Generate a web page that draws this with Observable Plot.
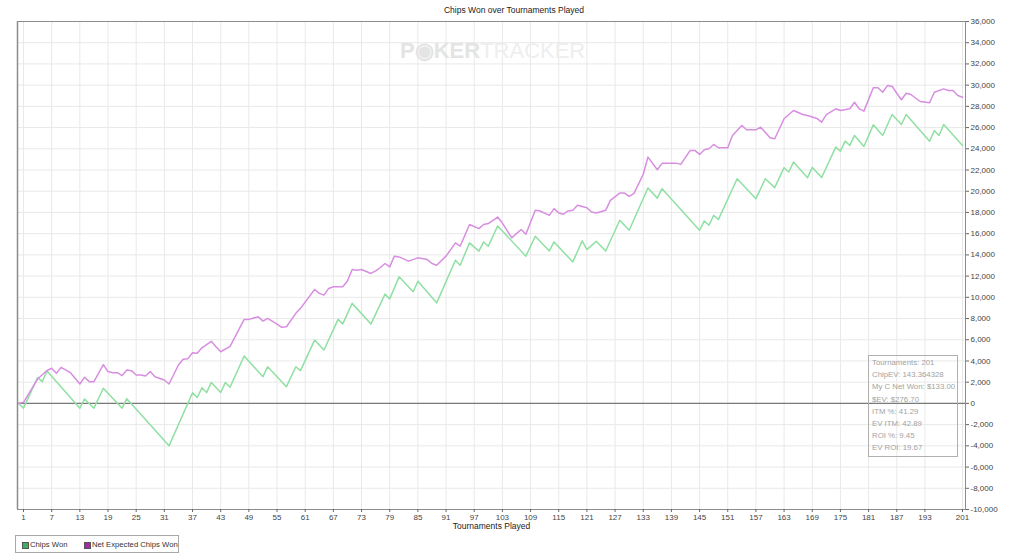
<!DOCTYPE html>
<html>
<head>
<meta charset="utf-8">
<script src="https://cdn.jsdelivr.net/npm/d3@7"></script>
<script src="https://cdn.jsdelivr.net/npm/@observablehq/plot@0.6"></script>
<style>
  html, body { margin: 0; padding: 0; background: #fff; }
  body { width: 1013px; height: 558px; position: relative; overflow: hidden; font-family: "Liberation Sans", Arial, sans-serif; }
  #title { position: absolute; top: 5px; left: 0; width: 1028px; text-align: center; font-size: 8.5px; color: #222; }
  #chart { position: absolute; top: 16px; left: 0; }
  #wm { position: absolute; left: 400px; top: 38px; font-size: 22px; letter-spacing: 0px; white-space: nowrap; }
  #wm .a { color: #e4e4e4; font-weight: bold; }
  #wm .b { color: #eeeeee; }
  #stats { position: absolute; left: 868px; top: 355px; width: 90px; height: 102px; border: 1px solid #b0b0b0; font-size: 7.8px; color: #a3a3a3; line-height: 12.2px; padding-left: 3px; box-sizing: border-box; padding-top: 1px; white-space: nowrap; }
  #legend { position: absolute; left: 15px; top: 535px; width: 164px; height: 18px; border: 1px solid #a8a8a8; box-sizing: border-box; font-size: 7.7px; color: #333; }
  #legend .sw { position: absolute; top: 6px; width: 5px; height: 5px; border: 0.5px solid #555; }
  #legend .lb { position: absolute; top: 3.5px; white-space: nowrap; }
</style>
</head>
<body>
<div id="title">Chips Won over Tournaments Played</div>
<div id="chart"></div>
<div id="wm"><span class="a">P&#9673;KER</span><span class="b">TRACKER</span></div>
<div id="stats"></div>
<div id="legend"></div>
<script>
// Chips Won: turning points (tournament number, chips)
const chipsT = [0,1,4,5,6,13,14,16,18,22,23,32,37,38,39,40,41,43,44,45,48,52,53,57,59,60,63,65,68,69,71,75,78,79,81,84,85,89,93,94,96,98,99,100,102,108,110,113,114,118,120,121,123,125,128,130,134,136,137,145,146,147,148,149,153,157,159,161,163,164,165,168,169,171,174,175,176,177,178,180,182,184,186,188,189,194,195,196,197,201];
const chipsV = [0,-450,2430,2050,3050,-450,420,-450,1430,-450,450,-4000,1000,550,1480,1020,1980,1030,1980,1530,4470,2520,3460,1580,3460,3090,5970,5030,7920,7500,9430,7480,10300,9850,11930,10520,11520,9480,13500,13030,15130,14350,15220,14820,16730,13880,15760,14370,15220,13340,15320,14500,15290,14370,17260,16320,20300,19350,20240,16320,17200,16790,17730,17330,21180,19300,21180,20340,22220,21810,22750,21280,22250,21300,24160,23780,24720,24320,25260,24220,26260,25260,27230,26290,27230,24720,25730,25260,26290,24300];

// Net Expected Chips Won: turning points
const evT = [0,1,4,6,7,8,9,11,13,14,15,16,18,19,20,21,22,23,24,25,26,27,28,29,31,32,34,35,36,37,38,39,41,42,43,45,48,49,51,52,53,55,56,57,59,60,63,64,65,66,67,69,70,71,72,73,75,76,77,78,79,80,81,83,85,87,88,89,91,93,94,96,98,99,100,102,103,105,106,107,108,110,111,113,114,115,116,117,118,119,121,122,123,125,126,128,129,130,131,133,134,136,137,140,141,143,144,145,146,147,148,149,151,152,154,155,157,158,160,161,163,165,167,168,170,171,172,174,175,177,178,179,180,182,183,184,185,186,187,188,189,190,192,194,195,197,198,199,200,201];
const evV = [0,100,2300,3100,3310,2840,3400,2900,1830,2460,2050,2050,3650,3000,2900,2900,2620,3150,3090,2680,2680,2590,3000,2520,2210,1830,3620,4160,4220,4780,4720,5240,5850,5340,4870,5380,7920,7920,8170,7760,8010,7480,7170,7230,8490,8960,10740,10370,10210,10840,10990,10990,11540,12620,12560,12620,12250,12490,12810,13190,12870,13880,13810,13410,13720,13560,13190,13030,13880,15130,14820,16860,16480,16860,16950,17570,17000,15600,16010,16390,15950,18200,18140,17730,18360,17950,17830,18140,18200,18670,18450,18040,17950,18200,19140,19830,19830,19520,19770,21600,23220,22030,22630,22650,22530,23850,23850,23470,23910,24000,24410,24100,24100,25260,26200,25790,25790,26040,25040,24950,26830,27610,27230,27140,26860,26510,27230,27770,27610,27770,28390,27770,27550,29750,29750,29330,29960,29900,29240,28620,29240,29120,28460,28340,29330,29650,29490,29490,29020,28860];

const xTicks = [1,7,13,19,25,31,37,43,49,55,61,67,73,79,85,91,97,103,109,115,121,127,133,139,145,151,157,163,169,175,181,187,193,201];
const yTicks = [-10000,-8000,-6000,-4000,-2000,0,2000,4000,6000,8000,10000,12000,14000,16000,18000,20000,22000,24000,26000,28000,30000,32000,34000,36000];

const seriesNames = ["Chips Won", "Net Expected Chips Won"];
const lineColors = ["#8fe0a2", "#d88ee0"];
const swatchColors = ["#3fae62", "#a42aa8"];

const statsLines = ["Tournaments: 201", "ChipEV: 143.364328", "My C Net Won: $133.00", "$EV: $276.70", "ITM %: 41.29", "EV ITM: 42.89", "ROI %: 9.45", "EV ROI: 19.67"];

const chips = chipsT.map((t, i) => ({t, v: chipsV[i]}));
const ev = evT.map((t, i) => ({t, v: evV[i]}));

const fmt = d => d3.format(",")(d).replace("\u2212", "-");

const chart = Plot.plot({
  width: 1013,
  height: 518,
  marginLeft: 17,
  marginRight: 48,
  marginTop: 5,
  marginBottom: 25,
  x: {domain: [-0.28, 201.64]},
  y: {domain: [-10000, 36000]},
  style: {fontFamily: "Liberation Sans, Arial, sans-serif", fontSize: "8px", color: "#444", background: "transparent"},
  marks: [
    Plot.gridX(xTicks, {stroke: "#e9e9e9", strokeOpacity: 1}),
    Plot.gridY(yTicks, {stroke: "#e9e9e9", strokeOpacity: 1}),
    Plot.ruleY([0], {stroke: "#7a7a7a", strokeWidth: 1.4}),
    Plot.line(chips, {x: "t", y: "v", stroke: lineColors[0], strokeWidth: 1.5}),
    Plot.line(ev, {x: "t", y: "v", stroke: lineColors[1], strokeWidth: 1.5}),
    Plot.frame({stroke: "#8c8c8c", strokeWidth: 1}),
    Plot.ruleX([-0.28], {stroke: "#8c8c8c", strokeWidth: 1.5}),
    Plot.axisX(xTicks, {tickSize: 3, tickPadding: 1.5, label: null, tickFormat: d => String(d), stroke: "#666", fill: "#444"}),
    Plot.axisY(yTicks, {anchor: "right", tickSize: 3, tickPadding: 2, label: null, tickFormat: fmt, stroke: "#666", fill: "#444"}),
    Plot.text(["Tournaments Played"], {frameAnchor: "bottom", dy: 19, fontSize: 8.5, fill: "#222"})
  ]
});
document.getElementById("chart").appendChild(chart);

document.getElementById("stats").innerHTML = statsLines.map(s => `<div>${s}</div>`).join("");

const lg = document.getElementById("legend");
const swX = [6, 68];
const lbX = [14, 76];
seriesNames.forEach((n, i) => {
  const s = document.createElement("div");
  s.className = "sw";
  s.style.left = swX[i] + "px";
  s.style.background = swatchColors[i];
  lg.appendChild(s);
  const l = document.createElement("div");
  l.className = "lb";
  l.style.left = lbX[i] + "px";
  l.textContent = n;
  lg.appendChild(l);
});
</script>
</body>
</html>
